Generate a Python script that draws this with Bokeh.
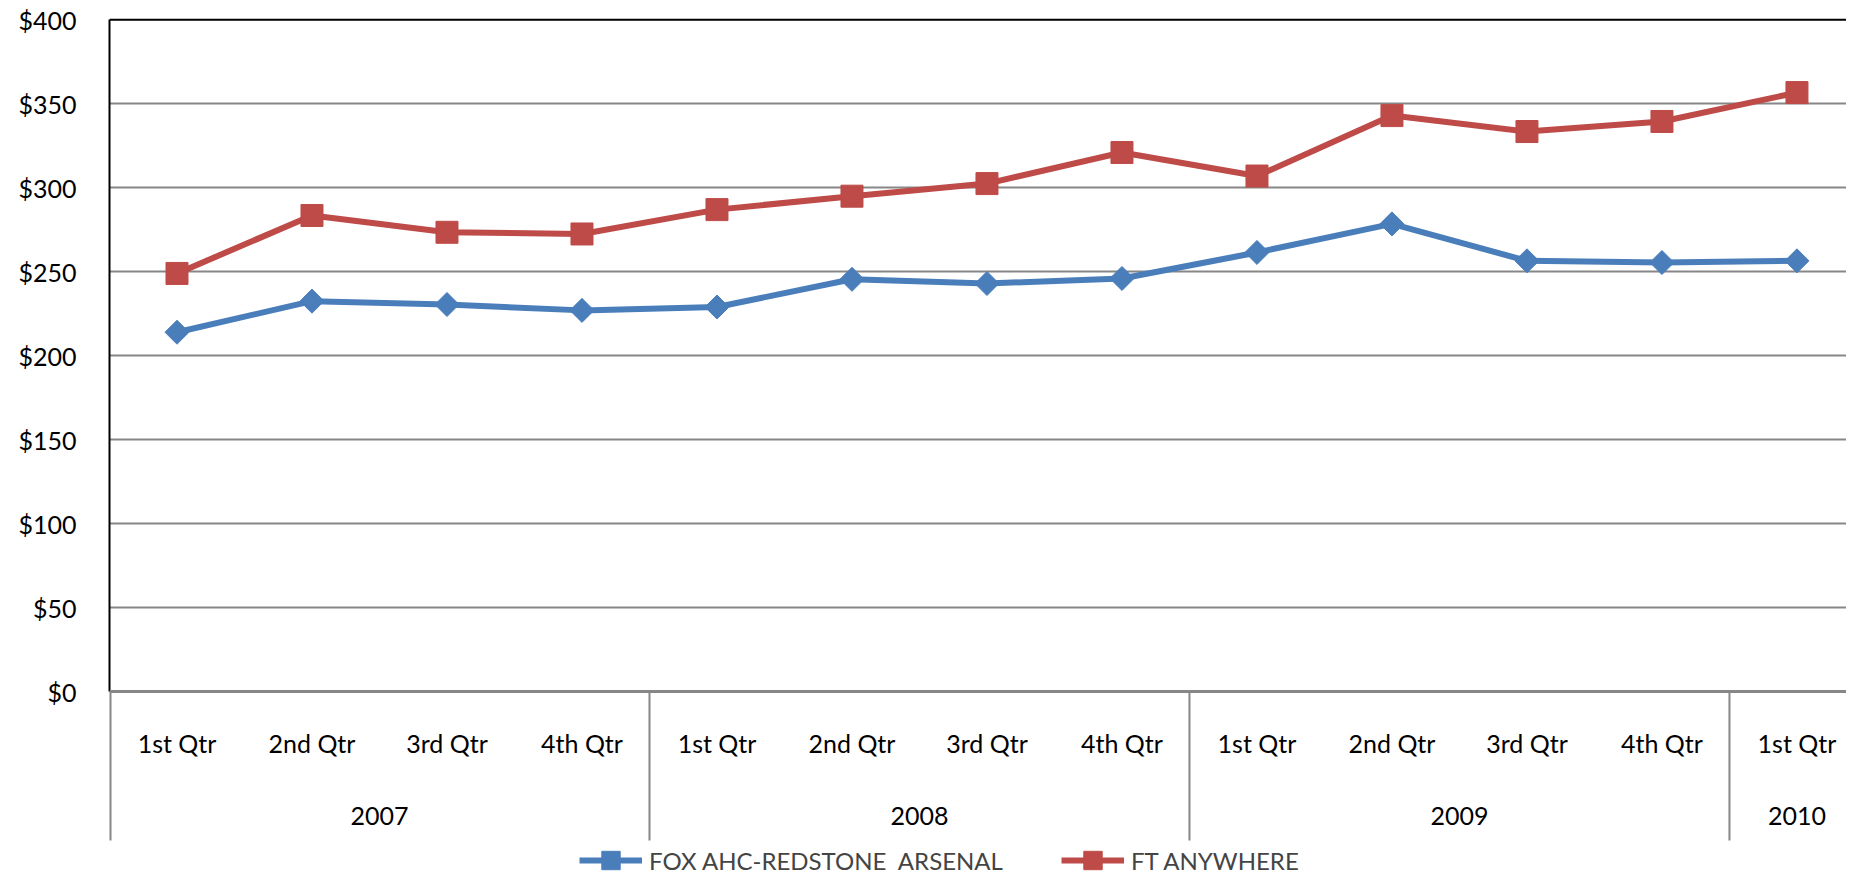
import numpy as np
from bokeh.plotting import figure
from bokeh.models import Range1d, FixedTicker, NumeralTickFormatter, Span, Legend, LegendItem
from bokeh.core.properties import value
from bokeh.embed import file_html
from bokeh.resources import INLINE

# ---- data ----
quarters = ["1st Qtr", "2nd Qtr", "3rd Qtr", "4th Qtr",
            "1st Qtr", "2nd Qtr", "3rd Qtr", "4th Qtr",
            "1st Qtr", "2nd Qtr", "3rd Qtr", "4th Qtr",
            "1st Qtr"]
years = ["2007", "2008", "2009", "2010"]
year_counts = [4, 4, 4, 1]
fox = [214, 232.5, 230.5, 227, 229, 245.5, 243, 246, 261.5, 278.5, 256.5, 255.5, 256.5]
ft = [249, 283.5, 273.5, 272.5, 287, 295, 302.5, 321, 307, 343, 333.5, 339.5, 356.7]
y_ticks = [0, 50, 100, 150, 200, 250, 300, 350, 400]

FONT = "Lato"
GRID = "#878787"
BLUE = "#4A7EBB"
RED = "#BE4B48"

n = len(quarters)
xs = np.arange(n) + 0.5
bounds = np.concatenate([[0], np.cumsum(year_counts)])
year_centers = (bounds[:-1] + bounds[1:]) / 2.0

QTR_Y = -30.4
YEAR_Y = -73.8
SEP_BOTTOM = -88.7

p = figure(width=1846, height=880, output_backend="svg", toolbar_location=None,
           x_range=Range1d(0, 12.867), y_range=Range1d(-112.5, 402),
           x_axis_location=None, min_border_left=109, min_border_top=16,
           min_border_bottom=0, min_border_right=0)
p.outline_line_color = None
p.xgrid.visible = False

yax = p.yaxis[0]
yax.ticker = FixedTicker(ticks=y_ticks)
yax.formatter = NumeralTickFormatter(format="$0")
yax.bounds = (0, 400)
yax.axis_line_color = "black"
yax.axis_line_width = 2
yax.major_tick_out = 0
yax.major_tick_in = 0
yax.minor_tick_out = 0
yax.minor_tick_in = 0
yax.major_label_standoff = 33
yax.major_label_text_font = FONT
yax.major_label_text_font_size = "25px"
yax.major_label_text_color = "black"

p.ygrid.ticker = FixedTicker(ticks=y_ticks[1:-1])
p.ygrid.grid_line_color = GRID
p.ygrid.grid_line_width = 2

p.add_layout(Span(location=0, dimension="width", line_color=GRID, line_width=3))
p.add_layout(Span(location=400, dimension="width", line_color="black", line_width=2))

# category separators below the axis
p.segment(x0=bounds, y0=[SEP_BOTTOM] * len(bounds), x1=bounds, y1=[0] * len(bounds),
          line_color=GRID, line_width=[4] + [2] * (len(bounds) - 1))

p.text(x=xs, y=[QTR_Y] * n, text=quarters, text_align="center", text_baseline="middle",
       text_font=value(FONT), text_font_size="25px", text_color="black")
p.text(x=year_centers, y=[YEAR_Y] * len(years), text=years, text_align="center",
       text_baseline="middle", text_font=value(FONT), text_font_size="25px", text_color="black")

l1 = p.line(xs, fox, line_color=BLUE, line_width=6)
m1 = p.scatter(xs, fox, marker="square", angle=np.pi / 4, size=17,
               fill_color=BLUE, line_color=BLUE)
l2 = p.line(xs, ft, line_color=RED, line_width=6)
m2 = p.scatter(xs, ft, marker="square", size=22, fill_color=RED, line_color=RED)

legend = Legend(items=[LegendItem(label="FOX AHC-REDSTONE  ARSENAL", renderers=[l1, m1]),
                       LegendItem(label="FT ANYWHERE", renderers=[l2, m2])],
                orientation="horizontal", location=(470, -3),
                border_line_color=None, background_fill_alpha=0,
                label_text_font=FONT, label_text_font_size="24px",
                glyph_width=63, glyph_height=46, label_standoff=7,
                spacing=58, padding=0, margin=0, label_height=24)
p.add_layout(legend, "center")

open("out.html", "w").write(file_html(p, INLINE))
